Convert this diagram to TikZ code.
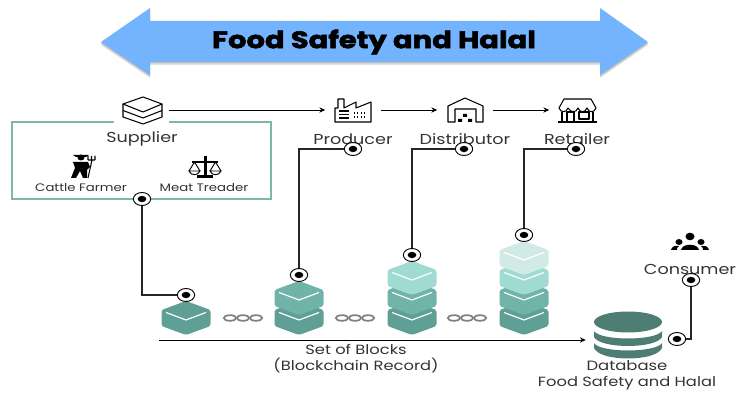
\documentclass[tikz,border=0pt]{standalone}
\usepackage{fontspec}
\setmainfont[FakeStretch=1.22]{Poppins}
\newfontfamily\titlefont[FakeStretch=1.22,FakeBold=2.2]{Poppins Bold}
\usetikzlibrary{shapes.geometric,arrows.meta}

\definecolor{boxgreen}{HTML}{7FB5AB}
\definecolor{dbgreen}{HTML}{4E7D74}
\definecolor{blockA}{HTML}{5F9F95}
\definecolor{blockB}{HTML}{70B3A9}
\definecolor{blockC}{HTML}{9FDBD2}
\definecolor{blockD}{HTML}{D2EAE5}
\definecolor{titleblue}{HTML}{74B3FE}
\definecolor{labelgray}{HTML}{333333}

\tikzset{
    flow/.style={draw=black, line width=0.8pt, -{Stealth[length=5pt,width=4.5pt]}},
    linkline/.style={draw=black!85, line width=0.9pt},
    iconbox/.style={fill=white, minimum width=1.65cm, minimum height=1.05cm, inner sep=0pt},
    iconline/.style={draw=black, line width=0.9pt, line join=round},
    linkdot/.style={ellipse, draw=black, fill=white, line width=0.8pt, inner sep=0pt,
        minimum width=5.2mm, minimum height=3.9mm,
        path picture={\fill[black] (path picture bounding box.center) ellipse (1.3mm and 0.95mm);}},
    lbl/.style={font=\fontsize{12.3}{14}\selectfont, text=labelgray, inner sep=0pt},
    smalllbl/.style={font=\fontsize{9.3}{11}\selectfont, text=labelgray, inner sep=0pt},
    subtitle/.style={font=\fontsize{11.4}{13}\selectfont, text=labelgray, inner sep=0pt},
}

\begin{document}
\begin{tikzpicture}[x=0.3mm, y=-0.3mm]
\useasboundingbox (0,0) rectangle (736,394);

% one block: centre x, top y, colour
\def\block#1#2#3{
    \fill[#3, rounded corners=1.5pt] (#1,#2) -- ++(24.5,9) -- ++(0,16) -- ++(-24.5,9) -- ++(-24.5,-9) -- ++(0,-16) -- cycle;
    \draw[white, line width=1pt] (#1-20,#2+11.5) -- (#1,#2+19) -- (#1+20,#2+11.5);
}
% one chain: centre x
\def\chain#1{
    \draw[black!50, line width=1.5pt] (#1-13,318) ellipse [x radius=6.2, y radius=2.8];
    \draw[black!50, line width=1.5pt] (#1,318) ellipse [x radius=6.2, y radius=2.8];
    \draw[black!50, line width=1.5pt] (#1+13,318) ellipse [x radius=6.2, y radius=2.8];
}

% Title arrow
\fill[black!12] (101,45) -- (150,11) -- (150,24) -- (600,24) -- (600,11) -- (648,45) -- (600,78) -- (600,65) -- (150,65) -- (150,78) -- cycle;
\fill[black!25] (101,43.5) -- (150,9.5) -- (150,22.5) -- (600,22.5) -- (600,9.5) -- (648,43.5) -- (600,76.5) -- (600,63.5) -- (150,63.5) -- (150,76.5) -- cycle;
\fill[titleblue] (101,42) -- (150,8) -- (150,21) -- (600,21) -- (600,8) -- (648,42) -- (600,75) -- (600,62) -- (150,62) -- (150,75) -- cycle;
\node[font=\fontsize{20.3}{22}\titlefont, text=black, inner sep=0pt] (title) at (374,42) {Food Safety and Halal};

% Supplier frame and top row
\draw[boxgreen, line width=0.9pt] (12,122) rectangle (271,199);
\node[iconbox] (supplier) at (141,110) {};
\node[iconbox] (producer) at (353,110) {};
\node[iconbox] (distributor) at (465,110) {};
\node[iconbox] (retailer) at (577,110) {};
\node[lbl] (supplierlbl) at (142,139) {Supplier};
\node[lbl] (producerlbl) at (353,139) {Producer};
\node[lbl] (distributorlbl) at (465,139) {Distributor};
\node[lbl] (retailerlbl) at (577,139) {Retailer};
\node[smalllbl] (farmerlbl) at (81,188) {Cattle Farmer};
\node[smalllbl] (traderlbl) at (204,188) {Meat Treader};

\draw[flow] (supplier) -- (producer);
\draw[flow] (producer) -- (distributor);
\draw[flow] (distributor) -- (retailer);

% Supplier icon
\draw[iconline] (143,97) -- (162,104) -- (143,112) -- (123,104) -- cycle;
\draw[iconline] (123,104) -- (123,117) -- (143,124) -- (162,117) -- (162,104);
\draw[iconline] (123,110.5) -- (143,118) -- (162,110.5);

% Producer icon
\draw[iconline] (335,122) -- (335,108) -- (338,108) -- (338,99) -- (344,99) -- (344,108) -- (356,102) -- (356,108) -- (371,102) -- (371,122) -- cycle;
\draw[iconline] (339,111) -- (349,111) (339,114.5) -- (349,114.5) (339,118) -- (349,118);
\draw[iconline, dotted] (354,113) -- (367,113) (354,117) -- (367,117);

% Distributor icon
\draw[iconline] (448,122) -- (448,106) -- (465,98) -- (483,106) -- (483,122) -- (476,122) -- (476,109) -- (455,109) -- (455,122) -- cycle;
\fill[black] (463,114) rectangle (467,117) (458,119) rectangle (462,122) (468,119) rectangle (472,122);

% Retailer icon
\draw[iconline] (564,99) -- (591,99) -- (596,108) .. controls (594,113) and (589,113) .. (587,108) .. controls (585,113) and (580,113) .. (578,108) .. controls (576,113) and (571,113) .. (568,108) .. controls (566,113) and (561,113) .. (559,108) -- cycle;
\draw[iconline] (562,112) -- (562,122) (593,112) -- (593,122) (558,122) -- (597,122);
\draw[iconline] (567,122) -- (567,112) -- (574,112) -- (574,122);
\draw[iconline] (579,112) rectangle (589,119);

% Cattle farmer icon
\fill[black] (81,157.5) ellipse [x radius=3.5, y radius=3];
\fill[black] (73,155) -- (89,155) -- (86,157) -- (76,157) -- cycle;
\fill[black] (73,162) -- (88,162) -- (90,167) -- (87,170) -- (87,178) -- (83,178) -- (80,171) -- (76,178) -- (71,178) -- (75,168) -- cycle;
\draw[black, line width=0.9pt] (88,178) -- (92,160) (88,160) -- (95,160) (88,160) -- (88,156) (91.5,160) -- (91.5,156) (95,160) -- (95,156);

% Meat trader icon
\fill[black] (203.5,156) rectangle (206.5,175);
\fill[black] (197,175) rectangle (213,178);
\draw[black, line width=0.9pt] (192,162) -- (218,162);
\draw[black, line width=0.8pt] (189,171) -- (194.5,162) -- (200,171) (189,171) .. controls (191,176) and (198,176) .. (200,171) -- cycle;
\draw[black, line width=0.8pt] (210,171) -- (215.5,162) -- (221,171) (210,171) .. controls (212,176) and (219,176) .. (221,171) -- cycle;

% Consumer icon
\fill[black] (690,236.5) ellipse [x radius=4.5, y radius=3.8];
\fill[black] (679,242) ellipse [x radius=3.5, y radius=3];
\fill[black] (701,242) ellipse [x radius=3.5, y radius=3];
\fill[black] (681,250) .. controls (682,243) and (698,243) .. (699,250) -- cycle;
\fill[black] (671,250) .. controls (672,246) and (675,245.5) .. (679,246) .. controls (677,247) and (677,249) .. (677,250) -- cycle;
\fill[black] (709,250) .. controls (708,246) and (705,245.5) .. (701,246) .. controls (703,247) and (703,249) .. (703,250) -- cycle;
\node[lbl] (consumerlbl) at (690,269) {Consumer};

% Blocks
\block{186}{301}{blockA}
\block{299}{301}{blockA}
\block{299}{281}{blockB}
\block{412}{301}{blockA}
\block{412}{281}{blockB}
\block{412}{261}{blockC}
\block{524}{301}{blockA}
\block{524}{281}{blockB}
\block{524}{261}{blockC}
\block{524}{241}{blockD}
\chain{243}
\chain{355}
\chain{467}

% Database
\fill[dbgreen] (628,322) ellipse [x radius=34, y radius=10.5];
\fill[dbgreen] (594,331) .. controls (600,341) and (656,341) .. (662,331) -- (662,337) .. controls (656,349) and (600,349) .. (594,337) -- cycle;
\fill[dbgreen] (594,343) .. controls (600,353) and (656,353) .. (662,343) -- (662,348) .. controls (656,362) and (600,362) .. (594,348) -- cycle;
\node[minimum width=2.52cm, minimum height=1.5cm, inner sep=0pt] (database) at (628,340) {};
\node[subtitle, font=\fontsize{11.5}{13}\selectfont] (databaselbl) at (627,366) {Database};
\node[subtitle] (databasesub) at (627,383) {Food Safety and Halal};

% Link dots and lines
\node[linkdot] (supplierdot) at (142,199) {};
\node[linkdot] (producerdot) at (353,149) {};
\node[linkdot] (distributordot) at (464,149) {};
\node[linkdot] (retailerdot) at (576,149) {};
\node[linkdot] (blockadot) at (186,295) {};
\node[linkdot] (blockbdot) at (299,275) {};
\node[linkdot] (blockcdot) at (412,255) {};
\node[linkdot] (blockddot) at (524,235) {};
\node[linkdot] (consumerdot) at (691,280) {};
\node[linkdot] (databasedot) at (677,339) {};

\draw[linkline] (supplierdot) |- (blockadot);
\draw[linkline] (producerdot) -| (blockbdot);
\draw[linkline] (distributordot) -| (blockcdot);
\draw[linkline] (retailerdot) -| (blockddot);
\draw[linkline] (databasedot) -| (consumerdot);

% Record line
\coordinate (recordstart) at (159,340);
\draw[flow] (recordstart) -- (database);
\node[subtitle] (setlbl) at (356,349) {Set of Blocks};
\node[subtitle] (recordlbl) at (356,366) {(Blockchain Record)};
\end{tikzpicture}
\end{document}
